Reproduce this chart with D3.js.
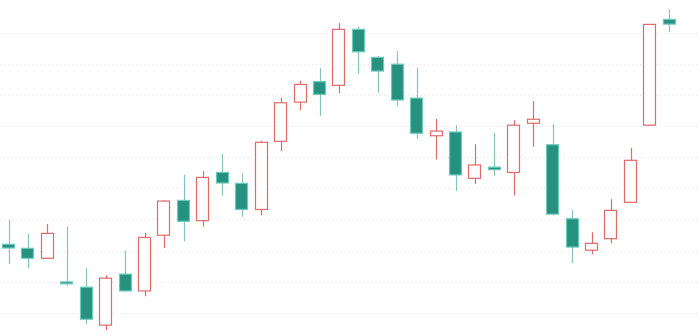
<!DOCTYPE html>
<html>
<head>
<meta charset="utf-8">
<script src="https://cdn.jsdelivr.net/npm/d3@7"></script>
<style>
  body { margin: 0; background: #fff; }
  svg { display: block; }
</style>
</head>
<body>
<script>
// candle data (arbitrary price units)
var opens  = [32.0, 30.7, 27.5, 19.9, 18.2, 6.0, 22.4, 17.0, 34.9, 46.1, 39.6, 55.1, 51.6, 43.2, 65.1, 77.7, 84.3, 83.1,
              101.1, 92.1, 89.9, 79.0, 66.9, 68.1, 53.2, 56.8, 55.1, 70.9, 64.0, 40.2, 30.1, 33.8, 45.5, 70.3, 104.3];
var closes = [30.8, 27.5, 35.5, 19.3, 7.9, 21.1, 17.0, 34.2, 45.9, 39.4, 53.5, 51.7, 43.2, 64.8, 77.5, 83.4, 80.2, 101.1,
              93.9, 87.7, 78.4, 67.7, 68.4, 54.3, 57.5, 56.0, 70.3, 72.2, 41.7, 31.1, 32.3, 42.9, 59.0, 102.7, 102.8];
var highs  = [39.8, 35.3, 38.5, 37.7, 24.3, 22.0, 29.9, 35.7, 46.2, 54.3, 55.5, 61.0, 54.8, 65.2, 79.1, 84.6, 88.7, 103.1,
              102.0, 92.5, 94.1, 88.7, 72.3, 70.3, 64.2, 67.8, 71.9, 78.1, 70.6, 43.0, 35.9, 46.5, 63.0, 102.7, 107.6];
var lows   = [25.6, 24.3, 27.5, 18.7, 6.3, 4.4, 16.9, 15.3, 30.8, 33.0, 37.7, 47.6, 40.8, 41.3, 62.0, 75.1, 73.3, 80.5,
              86.8, 80.7, 76.5, 65.9, 59.3, 49.1, 51.4, 54.0, 47.7, 63.4, 41.3, 25.9, 28.8, 32.3, 45.5, 70.3, 100.2];
var gridTicks = [10, 20, 30, 40, 50, 60, 70, 80, 90, 100];

var width = 700, height = 335;
var upColor = "#e06a6a", downColor = "#26917f";

var candles = opens.map(function(o, i) {
    return {i: i, open: o, close: closes[i], high: highs[i], low: lows[i]};
});

var svg = d3.select("body").append("svg")
    .attr("width", width)
    .attr("height", height);

var x = d3.scaleBand()
    .domain(d3.range(candles.length))
    .range([2, 676])
    .paddingInner(0.32)
    .paddingOuter(0);

var y = d3.scaleLinear()
    .domain([0, 110])
    .range([343.8, 1.7]);

// dotted horizontal grid
svg.append("g")
    .selectAll("line")
    .data(gridTicks)
    .join("line")
    .attr("x1", 0)
    .attr("x2", width)
    .attr("y1", function(d){ return Math.round(y(d)) + 0.5; })
    .attr("y2", function(d){ return Math.round(y(d)) + 0.5; })
    .style("stroke", "#e4e4e4")
    .style("stroke-dasharray", "1,3");

var g = svg.append("g")
    .selectAll("g")
    .data(candles)
    .join("g");

function isUp(d){ return d.close >= d.open; }
function cx(d){ return Math.round(x(d.i) + x.bandwidth() / 2) + 0.5; }

// wicks
g.append("line")
    .attr("x1", cx)
    .attr("x2", cx)
    .attr("y1", function(d){ return y(d.high); })
    .attr("y2", function(d){ return y(d.low); })
    .style("stroke", function(d){ return isUp(d) ? upColor : downColor; })
    .style("stroke-opacity", function(d){ return isUp(d) ? 1 : 0.55; })
    .style("stroke-width", 1.2);

// bodies
g.append("rect")
    .attr("x", function(d){ return Math.round(x(d.i)) + 0.5; })
    .attr("width", Math.round(x.bandwidth()) - 1)
    .attr("y", function(d){ return y(Math.max(d.open, d.close)); })
    .attr("height", function(d){ return Math.max(1.5, Math.abs(y(d.open) - y(d.close))); })
    .style("fill", function(d){ return isUp(d) ? "#fff" : downColor; })
    .style("stroke", function(d){ return isUp(d) ? upColor : "#6cc9bb"; })
    .style("stroke-width", 1.2);
</script>
</body>
</html>
